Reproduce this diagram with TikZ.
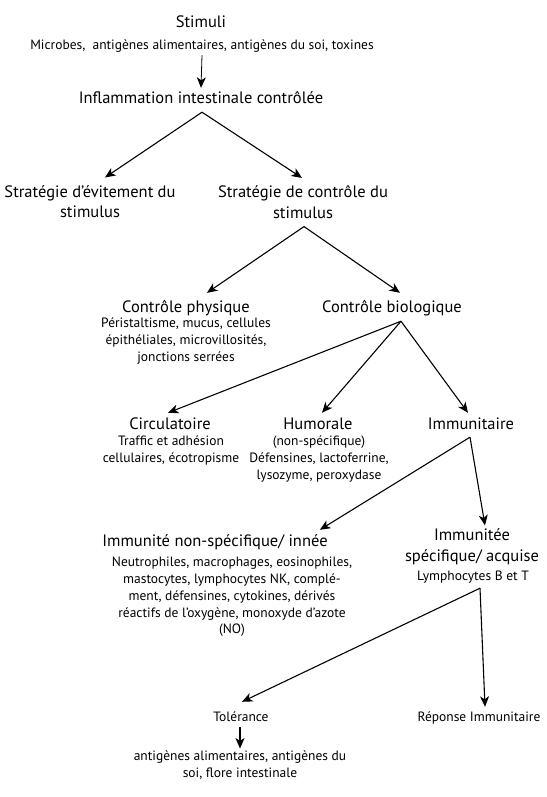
\documentclass[tikz,border=0pt]{standalone}
\usepackage{fontspec}
\setmainfont{PT Sans}
\usetikzlibrary{arrows.meta}
\tikzset{
  head/.style={font=\fontsize{16.5}{20.5}\selectfont, align=center, inner sep=2pt},
  head line/.style={head, text height=12pt, text depth=4pt},
  detail/.style={font=\fontsize{13.5}{16.8}\selectfont, align=center, inner sep=2pt},
  detail line/.style={detail, text height=9.5pt, text depth=3pt},
  branch/.style={-{Stealth[length=10.5pt,width=9pt,inset=3pt]}, line width=1.1pt},
}

\begin{document}
\begin{tikzpicture}[x=1pt, y=-1pt]
  \useasboundingbox (0,0) rectangle (546,797);
  \node[head line]   (stim)   at (201,24)    {Stimuli};
  \node[detail line] (microb) at (202,46)    {Microbes,~ antigènes alimentaires, antigènes du soi, toxines};
  \node[head line]   (infl)   at (201,99)    {Inflammation intestinale contrôlée};
  \node[head]        (evit)   at (90,201.5)  {Stratégie d’évitement du\\stimulus};
  \node[head]        (ctrl)   at (303,202)   {Stratégie de contrôle du\\stimulus};
  \node[head line]   (phys)   at (186,308)   {Contrôle physique};
  \node[detail]      (physd)  at (186,341)   {Péristaltisme, mucus, cellules\\épithéliales, microvillosités,\\jonctions serrées};
  \node[head line]   (bio)    at (392,308)   {Contrôle biologique};
  \node[head line]   (circ)   at (170,425)   {Circulatoire};
  \node[detail]      (circd)  at (171,450.5) {Traffic et adhésion\\cellulaires, écotropisme};
  \node[head line]   (humo)   at (318,425)   {Humorale};
  \node[detail]      (humod)  at (319,459)   {(non-spécifique)\\Défensines, lactoferrine,\\lysozyme, peroxydase};
  \node[head line]   (immu)   at (471,425)   {Immunitaire};
  \node[head line]   (inne)   at (215,542)   {Immunité non-spécifique/ innée};
  \node[detail]      (inned)  at (232,597)   {Neutrophiles, macrophages, eosinophiles,\\mastocytes, lymphocytes NK, complé-\\ment, défensines, cytokines, dérivés\\réactifs de l’oxygène, monoxyde d’azote\\(NO)};
  \node[head]        (acq)    at (472,546.5) {Immunitée\\spécifique/ acquise};
  \node[detail line] (lympho) at (473,577)   {Lymphocytes B et T};
  \node[detail line] (tol)    at (241,718)   {Tolérance};
  \node[detail]      (told)   at (240,765)   {antigènes alimentaires, antigènes du\\soi, flore intestinale};
  \node[detail line] (rep)    at (479,718)   {Réponse Immunitaire};

  \draw[branch, line width=0.8pt] ([yshift=-0.75pt]microb.south) -- ([yshift=1pt]infl.north);
  \draw[branch] ([xshift=1pt,yshift=-3pt]infl.south) -- ([xshift=15pt,yshift=5.5pt]evit.north);
  \draw[branch] ([xshift=1pt,yshift=-3pt]infl.south) -- ([xshift=-1pt,yshift=5.5pt]ctrl.north);
  \draw[branch] ([xshift=1pt,yshift=-6pt]ctrl.south) -- ([xshift=21pt,yshift=5pt]phys.north);
  \draw[branch] ([xshift=1pt,yshift=-6pt]ctrl.south) -- ([xshift=8pt,yshift=5pt]bio.north);
  \foreach \child/\dx in {circ/-2, humo/4, immu/-3}
    \draw[branch] ([xshift=9pt,yshift=-3pt]bio.south) -- ([xshift=\dx pt,yshift=2pt]\child.north);
  \draw[branch] ([xshift=-1pt,yshift=-2pt]immu.south) -- ([xshift=-10pt,yshift=2pt]inne.north east);
  \draw[branch] ([xshift=-1pt,yshift=-2pt]immu.south) -- ([xshift=13pt,yshift=1pt]acq.north);
  \draw[branch] ([xshift=7pt,yshift=-2.75pt]lympho.south) -- ([xshift=1pt,yshift=7.75pt]tol.north);
  \draw[branch] ([xshift=7pt,yshift=-2.75pt]lympho.south) -- ([xshift=6pt,yshift=2.75pt]rep.north);
  \draw[branch, line width=1.6pt] ([xshift=-1pt,yshift=-0.75pt]tol.south) -- (told.north);
\end{tikzpicture}
\end{document}
